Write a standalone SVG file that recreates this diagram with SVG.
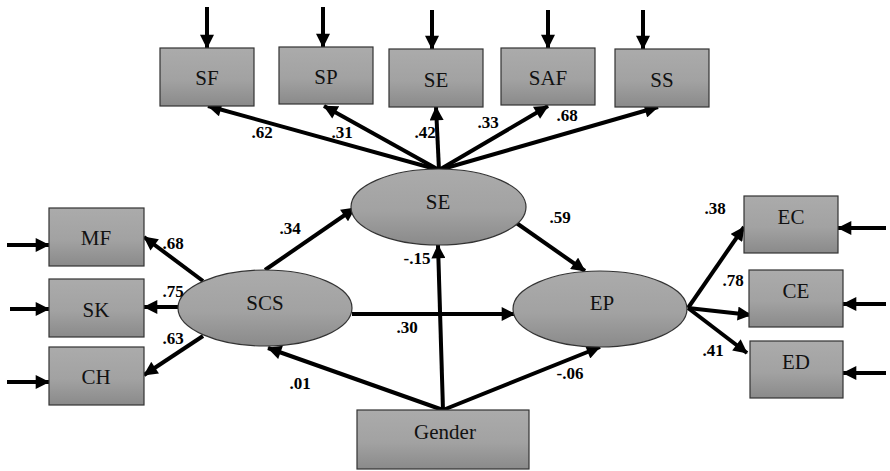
<svg xmlns="http://www.w3.org/2000/svg" width="890" height="471" viewBox="0 0 890 471">
<defs>
<linearGradient id="g" x1="0" y1="0" x2="0" y2="1">
<stop offset="0" stop-color="#ababab"/>
<stop offset="0.55" stop-color="#a2a2a2"/>
<stop offset="1" stop-color="#8a8a8a"/>
</linearGradient>
<marker id="ah" viewBox="0 0 10 10" refX="9.5" refY="5" markerUnits="userSpaceOnUse" markerWidth="15" markerHeight="14" orient="auto">
<path d="M0,0 L10,5 L0,10 z" fill="#000"/>
</marker>
<style>
.box{fill:url(#g);stroke:#333;stroke-width:1.2}
.ell{fill:url(#g);stroke:#333;stroke-width:1.2}
.lbl{font-size:21px;fill:#111;text-anchor:middle;dominant-baseline:central}
.num{font-size:17px;font-weight:bold;fill:#000;text-anchor:middle;dominant-baseline:central}
.c{stroke:#000;stroke-width:4;fill:none;marker-end:url(#ah)}
</style>
</defs>
<g id="connectors">
<line class="c" x1="207" y1="7" x2="207" y2="48"/>
<line class="c" x1="323" y1="7" x2="323" y2="47"/>
<line class="c" x1="432" y1="10" x2="432" y2="49"/>
<line class="c" x1="548" y1="10" x2="548" y2="48"/>
<line class="c" x1="643" y1="10" x2="643" y2="49"/>
<line class="c" x1="7" y1="245" x2="49" y2="245"/>
<line class="c" x1="10" y1="309" x2="49" y2="309"/>
<line class="c" x1="7" y1="382" x2="49" y2="382"/>
<line class="c" x1="886" y1="228" x2="838" y2="228"/>
<line class="c" x1="886" y1="304" x2="843" y2="304"/>
<line class="c" x1="886" y1="373" x2="843" y2="373"/>
<line class="c" x1="439" y1="170" x2="208" y2="106"/>
<line class="c" x1="439" y1="170" x2="324" y2="106"/>
<line class="c" x1="439" y1="170" x2="436" y2="107"/>
<line class="c" x1="439" y1="170" x2="548" y2="106"/>
<line class="c" x1="439" y1="170" x2="658" y2="107"/>
<line class="c" x1="203" y1="281" x2="144" y2="237"/>
<line class="c" x1="178" y1="307" x2="144" y2="307"/>
<line class="c" x1="203" y1="336" x2="144" y2="375"/>
<line class="c" x1="265" y1="270" x2="355" y2="208"/>
<line class="c" x1="352" y1="314" x2="515" y2="314"/>
<line class="c" x1="515" y1="222" x2="585" y2="271"/>
<line class="c" x1="443" y1="410" x2="438" y2="245"/>
<line class="c" x1="443" y1="410" x2="268" y2="348"/>
<line class="c" x1="443" y1="410" x2="600" y2="347"/>
<line class="c" x1="688" y1="308" x2="744" y2="227"/>
<line class="c" x1="688" y1="308" x2="751" y2="315"/>
<line class="c" x1="688" y1="308" x2="747" y2="353"/>
</g>
<g font-family="Liberation Serif, Times New Roman, serif">
<g id="SF"><rect class="box" x="160" y="48" width="94" height="58"/><text class="lbl" x="207" y="78">SF</text></g>
<g id="SP"><rect class="box" x="279" y="47" width="94" height="57"/><text class="lbl" x="326" y="77">SP</text></g>
<g id="SE_ind"><rect class="box" x="389" y="49" width="94" height="58"/><text class="lbl" x="436" y="80">SE</text></g>
<g id="SAF"><rect class="box" x="501" y="48" width="94" height="57"/><text class="lbl" x="548" y="78">SAF</text></g>
<g id="SS"><rect class="box" x="615" y="49" width="94" height="58"/><text class="lbl" x="662" y="80">SS</text></g>
<g id="MF"><rect class="box" x="49" y="208" width="95" height="58"/><text class="lbl" x="96" y="238">MF</text></g>
<g id="SK"><rect class="box" x="49" y="279" width="95" height="58"/><text class="lbl" x="96" y="310">SK</text></g>
<g id="CH"><rect class="box" x="49" y="347" width="95" height="58"/><text class="lbl" x="96" y="377">CH</text></g>
<g id="EC"><rect class="box" x="744" y="196" width="94" height="57"/><text class="lbl" x="791" y="217">EC</text></g>
<g id="CE"><rect class="box" x="749" y="270" width="94" height="57"/><text class="lbl" x="796" y="291">CE</text></g>
<g id="ED"><rect class="box" x="750" y="341" width="93" height="57"/><text class="lbl" x="796" y="362">ED</text></g>
<g id="Gender"><rect class="box" x="357" y="410" width="172" height="59"/><text class="lbl" x="445" y="432">Gender</text></g>
<g id="SE"><ellipse class="ell" cx="438.5" cy="207" rx="87.5" ry="38"/><text class="lbl" x="438" y="202">SE</text></g>
<g id="SCS"><ellipse class="ell" cx="265" cy="308" rx="87" ry="38"/><text class="lbl" x="265" y="303">SCS</text></g>
<g id="EP"><ellipse class="ell" cx="600" cy="309" rx="87" ry="38"/><text class="lbl" x="602" y="303">EP</text></g>
<g id="labels">
<text class="num" x="262" y="132">.62</text>
<text class="num" x="342" y="132">.31</text>
<text class="num" x="425" y="132">.42</text>
<text class="num" x="488" y="122">.33</text>
<text class="num" x="567" y="115">.68</text>
<text class="num" x="173" y="243">.68</text>
<text class="num" x="173" y="291">.75</text>
<text class="num" x="173" y="338">.63</text>
<text class="num" x="290" y="228">.34</text>
<text class="num" x="300" y="383">.01</text>
<text class="num" x="407" y="327">.30</text>
<text class="num" x="417" y="258">-.15</text>
<text class="num" x="560" y="217">.59</text>
<text class="num" x="570" y="373">-.06</text>
<text class="num" x="715" y="208">.38</text>
<text class="num" x="733" y="280">.78</text>
<text class="num" x="713" y="350">.41</text>
</g>
</g>
</svg>
